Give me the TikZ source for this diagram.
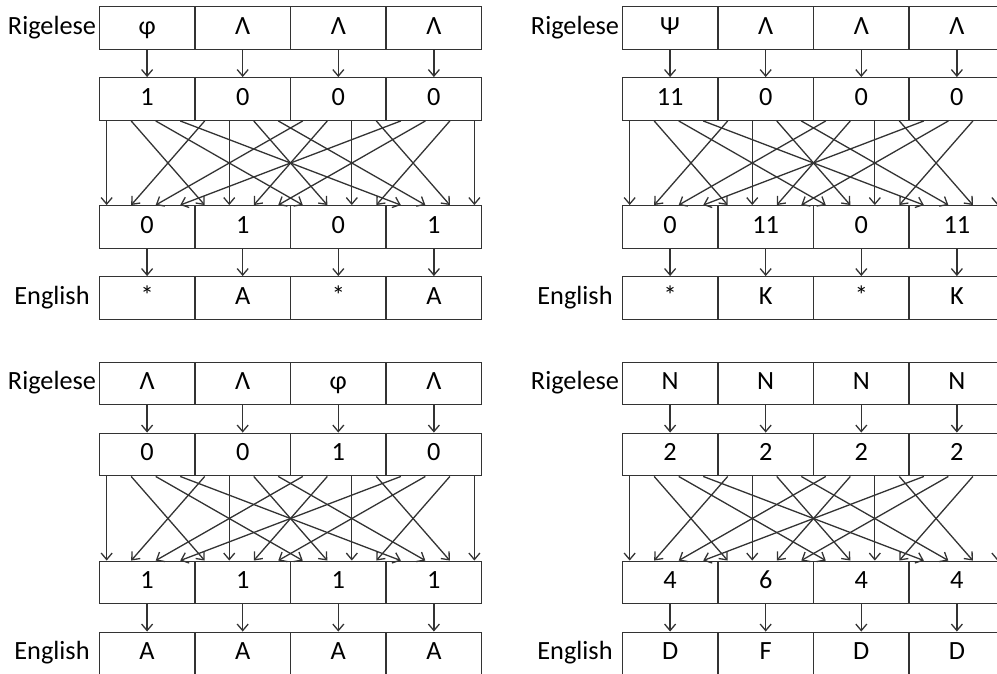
\documentclass[tikz,border=0pt]{standalone}
\usepackage{fontspec}
\setmainfont{Carlito}
\usetikzlibrary{arrows.meta,calc}

\begin{document}
\begin{tikzpicture}[x=1pt, y=-1pt,
    cell/.style={draw=black!80, line width=1.3pt, minimum width=95.6pt, minimum height=42.6pt,
                 inner sep=0pt, text height=17pt, text depth=5pt, font=\fontsize{26.3}{31}\selectfont},
    rowlabel/.style={inner sep=0pt, text height=17pt, text depth=5pt, font=\fontsize{26.3}{31}\selectfont},
    arrow/.style={-{Straight Barb[length=6.5pt,width=11pt]}, line width=1.3pt, draw=black!80}
]
    \useasboundingbox (0,0) rectangle (997,673);
    \clip (0,0) rectangle (997,673);

    % one panel per entry: shift / Rigelese row / two number rows / English row
    \foreach \px/\py/\rigl/\numa/\numb/\engl in {
        0/0/{φ,Λ,Λ,Λ}/{1,0,0,0}/{0,1,0,1}/{*,A,*,A},
        523/0/{Ψ,Λ,Λ,Λ}/{11,0,0,0}/{0,11,0,11}/{*,K,*,K},
        0/355.5/{Λ,Λ,φ,Λ}/{0,0,1,0}/{1,1,1,1}/{A,A,A,A},
        523/355.5/{N,N,N,N}/{2,2,2,2}/{4,6,4,4}/{D,F,D,D}} {
      \begin{scope}[shift={(\px,\py)}]
        % row labels
        \node[rowlabel] (rig) at (52,28)  {Rigelese};
        \node[rowlabel] (eng) at (52,298) {English};

        % cells
        \foreach \t [count=\i] in \rigl {\node[cell] (r\i) at ({51.5+95.6*\i},28)  {\t};}
        \foreach \t [count=\i] in \numa {\node[cell] (n\i) at ({51.5+95.6*\i},99)  {\t};}
        \foreach \t [count=\i] in \numb {\node[cell] (m\i) at ({51.5+95.6*\i},227) {\t};}
        \foreach \t [count=\i] in \engl {\node[cell] (e\i) at ({51.5+95.6*\i},298) {\t};}

        % straight arrows
        \foreach \i in {1,...,4} {
          \draw[arrow] (r\i.south) -- (n\i.north);
          \draw[arrow] (m\i.south) -- (e\i.north);
        }

        % crossing arrows: slot k of cell j goes to slot j of cell k
        \foreach \j in {0,...,3}
          \foreach \k in {0,...,3} {
            \pgfmathsetmacro\fa{(8+24.43*(4*\j+\k))/382.4}
            \pgfmathsetmacro\fb{(8+24.43*(4*\k+\j))/382.4}
            \draw[arrow] ($(n1.south west)!\fa!(n4.south east)$) -- ($(m1.north west)!\fb!(m4.north east)$);
          }
      \end{scope}
    }
\end{tikzpicture}
\end{document}
